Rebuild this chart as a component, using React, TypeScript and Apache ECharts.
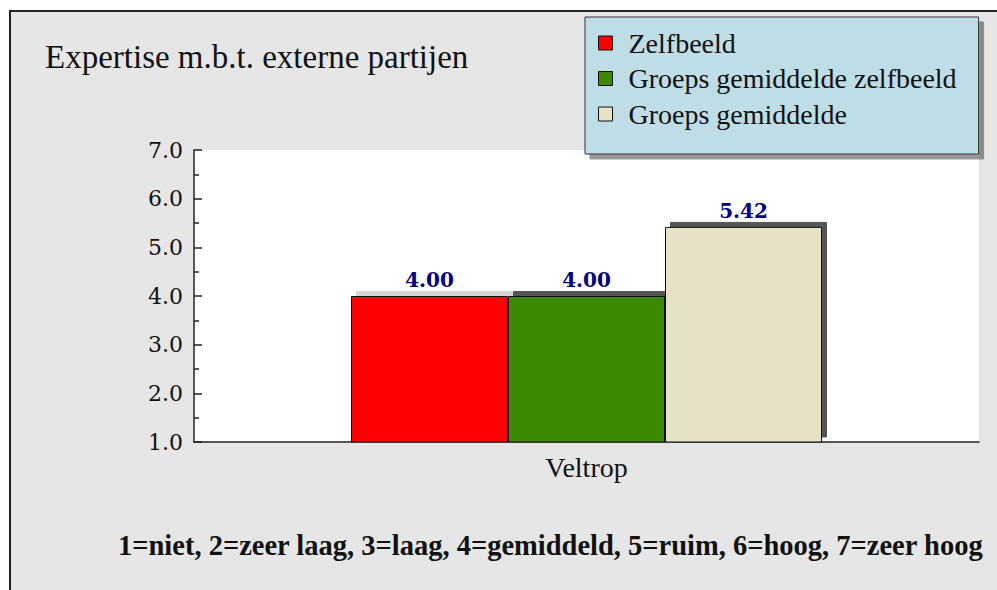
import React, { useEffect, useRef } from "react";
import * as echarts from "echarts";

const categories = ["Veltrop"];
const seriesNames = ["Zelfbeeld", "Groeps gemiddelde zelfbeeld", "Groeps gemiddelde"];
const zelfbeeld = [4.0];
const groepsZelfbeeld = [4.0];
const groepsGemiddelde = [5.42];
const yTicks = { min: 1, max: 7, interval: 1 };
const titleText = "Expertise m.b.t. externe partijen";
const noteText = "1=niet, 2=zeer laag, 3=laag, 4=gemiddeld, 5=ruim, 6=hoog, 7=zeer hoog";

const colors = ["#ff0000", "#3d8a00", "#e7e1c6"];
const shadowColors = ["#d6d6d6", "#555555", "#555555"];

export default function App() {
  const ref = useRef<HTMLDivElement>(null);
  useEffect(() => {
    if (!ref.current) return;
    const chart = echarts.init(ref.current, undefined, { renderer: "svg" });
    const values = [zelfbeeld, groepsZelfbeeld, groepsGemiddelde];
    chart.setOption({
      animation: false,
      backgroundColor: "#ffffff",
      title: {
        text: titleText,
        left: 45,
        top: 40,
        padding: 0,
        textStyle: { fontFamily: "Liberation Serif", fontWeight: "normal", fontSize: 33, color: "#111" },
      },
      graphic: [
        {
          type: "rect",
          z: -100,
          shape: { x: 10, y: 11, width: 1000, height: 600 },
          style: { fill: "#e6e6e6", stroke: "#222", lineWidth: 2 },
        },
        {
          type: "text",
          x: 118,
          y: 545,
          style: {
            text: noteText,
            fontFamily: "Liberation Serif",
            fontWeight: "bold",
            fontSize: 28.5,
            fill: "#111",
            verticalAlign: "middle",
          },
        },
      ],
      legend: {
        left: 585,
        top: 17,
        orient: "vertical",
        selectedMode: false,
        backgroundColor: "#bedde6",
        borderColor: "#333",
        borderWidth: 1,
        padding: [12, 22, 26, 13],
        shadowColor: "rgba(0,0,0,0.4)",
        shadowOffsetX: 5,
        shadowOffsetY: 5,
        shadowBlur: 0,
        itemWidth: 14,
        itemHeight: 14,
        itemGap: 7.5,
        icon: "rect",
        itemStyle: { borderColor: "#111", borderWidth: 1, shadowColor: "transparent", shadowBlur: 0, shadowOffsetX: 0, shadowOffsetY: 0 },
        textStyle: {
          fontFamily: "Liberation Serif",
          fontSize: 28,
          color: "#111",
          lineHeight: 27,
          padding: [0, 0, 0, 11],
        },
        data: seriesNames,
      },
      grid: {
        left: 194,
        right: 18,
        top: 150,
        bottom: 148,
        show: true,
        backgroundColor: "#ffffff",
        borderWidth: 0,
      },
      xAxis: {
        type: "category",
        data: categories,
        axisLine: { lineStyle: { color: "#222", width: 1.5 } },
        axisTick: { inside: true, length: 8, lineStyle: { color: "#222", width: 1.5 } },
        axisLabel: { fontFamily: "Liberation Serif", fontSize: 28, color: "#111", margin: 11 },
      },
      yAxis: {
        type: "value",
        min: yTicks.min,
        max: yTicks.max,
        interval: yTicks.interval,
        splitLine: { show: false },
        axisLine: { show: true, lineStyle: { color: "#222", width: 1.5 } },
        axisTick: { show: true, inside: true, length: 8, lineStyle: { color: "#222", width: 1.5 } },
        minorTick: { show: true, splitNumber: 2, length: 5, lineStyle: { color: "#222", width: 1.5 } },
        axisLabel: {
          fontFamily: "DejaVu Serif",
          fontSize: 22,
          color: "#111",
          margin: 11,
          formatter: (v: number) => v.toFixed(1),
        },
      },
      series: seriesNames.map((name, i) => ({
        name,
        type: "bar",
        data: values[i],
        barGap: "0%",
        barCategoryGap: "40%",
        itemStyle: {
          color: colors[i],
          borderColor: "#111",
          borderWidth: 1,
          shadowColor: shadowColors[i],
          shadowBlur: 0,
          shadowOffsetX: 5,
          shadowOffsetY: -5,
        },
        label: {
          show: true,
          position: "top",
          distance: 6,
          fontFamily: "DejaVu Serif",
          fontWeight: "bold",
          fontSize: 20,
          color: "#000080",
          formatter: (p: any) => Number(p.value).toFixed(2),
        },
      })),
    });
    return () => chart.dispose();
  }, []);
  return (
    <div
      ref={ref}
      style={{ position: "fixed", left: 0, top: 0, width: 997, height: 590 }}
    />
  );
}
